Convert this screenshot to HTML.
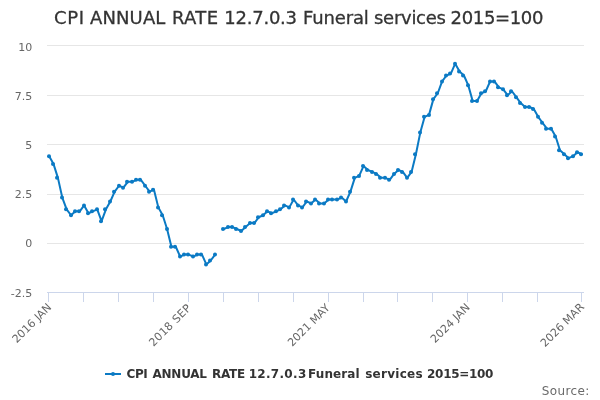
<!DOCTYPE html>
<html><head><meta charset="utf-8"><title>CPI ANNUAL RATE 12.7.0.3 Funeral services 2015=100</title>
<style>
html,body{margin:0;padding:0;background:#fff;}
svg{display:block;font-family:"DejaVu Sans","Liberation Sans",sans-serif;}
</style></head><body>
<svg width="600" height="400" viewBox="0 0 600 400">
<rect x="0" y="0" width="600" height="400" fill="#ffffff"/>
<g stroke="#e6e6e6" stroke-width="1" fill="none"><path d="M 47 45.5 L 584 45.5"/><path d="M 47 95.5 L 584 95.5"/><path d="M 47 144.5 L 584 144.5"/><path d="M 47 194.5 L 584 194.5"/><path d="M 47 243.5 L 584 243.5"/></g>
<path d="M 47 292.5 L 584 292.5" stroke="#ccd6eb" stroke-width="1" fill="none"/>
<g stroke="#ccd6eb" stroke-width="1" fill="none"><path d="M 48.5 292 L 48.5 302"/><path d="M 83.5 292 L 83.5 302"/><path d="M 118.5 292 L 118.5 302"/><path d="M 153.5 292 L 153.5 302"/><path d="M 188.5 292 L 188.5 302"/><path d="M 223.5 292 L 223.5 302"/><path d="M 258.5 292 L 258.5 302"/><path d="M 293.5 292 L 293.5 302"/><path d="M 328.5 292 L 328.5 302"/><path d="M 363.5 292 L 363.5 302"/><path d="M 397.5 292 L 397.5 302"/><path d="M 432.5 292 L 432.5 302"/><path d="M 467.5 292 L 467.5 302"/><path d="M 502.5 292 L 502.5 302"/><path d="M 537.5 292 L 537.5 302"/><path d="M 581.5 292 L 581.5 302"/></g>
<path d="M 49.18 156.21 L 53.55 164.08 L 57.91 177.86 L 62.28 197.54 L 66.65 209.34 L 71.01 215.25 L 75.38 211.31 L 79.74 211.31 L 84.11 205.41 L 88.48 213.28 L 92.84 211.31 L 97.21 209.34 L 101.57 221.15 L 105.94 209.34 L 110.30 201.47 L 114.67 191.63 L 119.04 185.73 L 123.40 187.70 L 127.77 181.79 L 132.13 181.79 L 136.50 179.82 L 140.87 179.82 L 145.23 185.73 L 149.60 191.63 L 153.96 189.66 L 158.33 207.38 L 162.70 215.25 L 167.06 229.02 L 171.43 246.74 L 175.79 246.74 L 180.16 256.58 L 184.52 254.61 L 188.89 254.61 L 193.26 256.58 L 197.62 254.61 L 201.99 254.61 L 206.35 264.45 L 210.72 260.51 L 215.09 254.61 M 223.82 229.02 L 228.18 227.06 L 232.55 227.06 L 236.91 229.02 L 241.28 230.99 L 245.65 227.06 L 250.01 223.12 L 254.38 223.12 L 258.74 217.22 L 263.11 215.25 L 267.48 211.31 L 271.84 213.28 L 276.21 211.31 L 280.57 209.34 L 284.94 205.41 L 289.30 207.38 L 293.67 199.50 L 298.04 205.41 L 302.40 207.38 L 306.77 201.47 L 311.13 203.44 L 315.50 199.50 L 319.87 203.44 L 324.23 203.44 L 328.60 199.50 L 332.96 199.50 L 337.33 199.50 L 341.70 197.54 L 346.06 201.47 L 350.43 191.63 L 354.79 177.86 L 359.16 175.89 L 363.52 166.05 L 367.89 169.98 L 372.26 171.95 L 376.62 173.92 L 380.99 177.86 L 385.35 177.86 L 389.72 179.82 L 394.09 173.92 L 398.45 169.98 L 402.82 171.95 L 407.18 177.86 L 411.55 171.95 L 415.91 154.24 L 420.28 132.59 L 424.65 116.85 L 429.01 114.88 L 433.38 99.14 L 437.74 93.23 L 442.11 81.42 L 446.48 75.52 L 450.84 73.55 L 455.21 63.71 L 459.57 71.58 L 463.94 75.52 L 468.30 85.36 L 472.67 101.10 L 477.04 101.10 L 481.40 93.23 L 485.77 91.26 L 490.13 81.42 L 494.50 81.42 L 498.87 87.33 L 503.23 89.30 L 507.60 95.20 L 511.96 91.26 L 516.33 97.17 L 520.70 103.07 L 525.06 107.01 L 529.43 107.01 L 533.79 108.98 L 538.16 116.85 L 542.52 122.75 L 546.89 128.66 L 551.26 128.66 L 555.62 136.53 L 559.99 150.30 L 564.35 154.24 L 568.72 158.18 L 573.09 156.21 L 577.45 152.27 L 581.82 154.24" fill="none" stroke="#0b7ac4" stroke-width="2" stroke-linejoin="round" stroke-linecap="round"/>
<g fill="#0b7ac4"><circle cx="49.00" cy="156.21" r="2"/><circle cx="53.00" cy="164.08" r="2"/><circle cx="57.00" cy="177.86" r="2"/><circle cx="62.00" cy="197.54" r="2"/><circle cx="66.00" cy="209.34" r="2"/><circle cx="71.00" cy="215.25" r="2"/><circle cx="75.00" cy="211.31" r="2"/><circle cx="79.00" cy="211.31" r="2"/><circle cx="84.00" cy="205.41" r="2"/><circle cx="88.00" cy="213.28" r="2"/><circle cx="92.00" cy="211.31" r="2"/><circle cx="97.00" cy="209.34" r="2"/><circle cx="101.00" cy="221.15" r="2"/><circle cx="105.00" cy="209.34" r="2"/><circle cx="110.00" cy="201.47" r="2"/><circle cx="114.00" cy="191.63" r="2"/><circle cx="119.00" cy="185.73" r="2"/><circle cx="123.00" cy="187.70" r="2"/><circle cx="127.00" cy="181.79" r="2"/><circle cx="132.00" cy="181.79" r="2"/><circle cx="136.00" cy="179.82" r="2"/><circle cx="140.00" cy="179.82" r="2"/><circle cx="145.00" cy="185.73" r="2"/><circle cx="149.00" cy="191.63" r="2"/><circle cx="153.00" cy="189.66" r="2"/><circle cx="158.00" cy="207.38" r="2"/><circle cx="162.00" cy="215.25" r="2"/><circle cx="167.00" cy="229.02" r="2"/><circle cx="171.00" cy="246.74" r="2"/><circle cx="175.00" cy="246.74" r="2"/><circle cx="180.00" cy="256.58" r="2"/><circle cx="184.00" cy="254.61" r="2"/><circle cx="188.00" cy="254.61" r="2"/><circle cx="193.00" cy="256.58" r="2"/><circle cx="197.00" cy="254.61" r="2"/><circle cx="201.00" cy="254.61" r="2"/><circle cx="206.00" cy="264.45" r="2"/><circle cx="210.00" cy="260.51" r="2"/><circle cx="215.00" cy="254.61" r="2"/><circle cx="223.00" cy="229.02" r="2"/><circle cx="228.00" cy="227.06" r="2"/><circle cx="232.00" cy="227.06" r="2"/><circle cx="236.00" cy="229.02" r="2"/><circle cx="241.00" cy="230.99" r="2"/><circle cx="245.00" cy="227.06" r="2"/><circle cx="250.00" cy="223.12" r="2"/><circle cx="254.00" cy="223.12" r="2"/><circle cx="258.00" cy="217.22" r="2"/><circle cx="263.00" cy="215.25" r="2"/><circle cx="267.00" cy="211.31" r="2"/><circle cx="271.00" cy="213.28" r="2"/><circle cx="276.00" cy="211.31" r="2"/><circle cx="280.00" cy="209.34" r="2"/><circle cx="284.00" cy="205.41" r="2"/><circle cx="289.00" cy="207.38" r="2"/><circle cx="293.00" cy="199.50" r="2"/><circle cx="298.00" cy="205.41" r="2"/><circle cx="302.00" cy="207.38" r="2"/><circle cx="306.00" cy="201.47" r="2"/><circle cx="311.00" cy="203.44" r="2"/><circle cx="315.00" cy="199.50" r="2"/><circle cx="319.00" cy="203.44" r="2"/><circle cx="324.00" cy="203.44" r="2"/><circle cx="328.00" cy="199.50" r="2"/><circle cx="332.00" cy="199.50" r="2"/><circle cx="337.00" cy="199.50" r="2"/><circle cx="341.00" cy="197.54" r="2"/><circle cx="346.00" cy="201.47" r="2"/><circle cx="350.00" cy="191.63" r="2"/><circle cx="354.00" cy="177.86" r="2"/><circle cx="359.00" cy="175.89" r="2"/><circle cx="363.00" cy="166.05" r="2"/><circle cx="367.00" cy="169.98" r="2"/><circle cx="372.00" cy="171.95" r="2"/><circle cx="376.00" cy="173.92" r="2"/><circle cx="380.00" cy="177.86" r="2"/><circle cx="385.00" cy="177.86" r="2"/><circle cx="389.00" cy="179.82" r="2"/><circle cx="394.00" cy="173.92" r="2"/><circle cx="398.00" cy="169.98" r="2"/><circle cx="402.00" cy="171.95" r="2"/><circle cx="407.00" cy="177.86" r="2"/><circle cx="411.00" cy="171.95" r="2"/><circle cx="415.00" cy="154.24" r="2"/><circle cx="420.00" cy="132.59" r="2"/><circle cx="424.00" cy="116.85" r="2"/><circle cx="429.00" cy="114.88" r="2"/><circle cx="433.00" cy="99.14" r="2"/><circle cx="437.00" cy="93.23" r="2"/><circle cx="442.00" cy="81.42" r="2"/><circle cx="446.00" cy="75.52" r="2"/><circle cx="450.00" cy="73.55" r="2"/><circle cx="455.00" cy="63.71" r="2"/><circle cx="459.00" cy="71.58" r="2"/><circle cx="463.00" cy="75.52" r="2"/><circle cx="468.00" cy="85.36" r="2"/><circle cx="472.00" cy="101.10" r="2"/><circle cx="477.00" cy="101.10" r="2"/><circle cx="481.00" cy="93.23" r="2"/><circle cx="485.00" cy="91.26" r="2"/><circle cx="490.00" cy="81.42" r="2"/><circle cx="494.00" cy="81.42" r="2"/><circle cx="498.00" cy="87.33" r="2"/><circle cx="503.00" cy="89.30" r="2"/><circle cx="507.00" cy="95.20" r="2"/><circle cx="511.00" cy="91.26" r="2"/><circle cx="516.00" cy="97.17" r="2"/><circle cx="520.00" cy="103.07" r="2"/><circle cx="525.00" cy="107.01" r="2"/><circle cx="529.00" cy="107.01" r="2"/><circle cx="533.00" cy="108.98" r="2"/><circle cx="538.00" cy="116.85" r="2"/><circle cx="542.00" cy="122.75" r="2"/><circle cx="546.00" cy="128.66" r="2"/><circle cx="551.00" cy="128.66" r="2"/><circle cx="555.00" cy="136.53" r="2"/><circle cx="559.00" cy="150.30" r="2"/><circle cx="564.00" cy="154.24" r="2"/><circle cx="568.00" cy="158.18" r="2"/><circle cx="573.00" cy="156.21" r="2"/><circle cx="577.00" cy="152.27" r="2"/><circle cx="581.00" cy="154.24" r="2"/></g>
<text id="title" y="24" style="font-size:18px;fill:#333333;stroke:#333333;stroke-width:0.3px" xml:space="preserve"><tspan x="54.0" textLength="30.07">CPI</tspan> <tspan x="90.0" textLength="75.35">ANNUAL</tspan> <tspan x="172.0" textLength="46.05">RATE</tspan> <tspan x="224.27" textLength="72.77">12.7.0.3</tspan> <tspan x="302.98" textLength="65.8">Funeral</tspan> <tspan x="374.0" textLength="71.9">services</tspan> <tspan x="450.6" textLength="92.8">2015=100</tspan></text>
<g style="font-size:11px;fill:#666666"><text x="32.3" y="51" text-anchor="end">10</text><text x="32.3" y="100" text-anchor="end">7.5</text><text x="32.3" y="149" text-anchor="end">5</text><text x="32.3" y="198" text-anchor="end">2.5</text><text x="32.3" y="247" text-anchor="end">0</text><text x="32.3" y="297" text-anchor="end">-2.5</text></g>
<g style="font-size:11px;fill:#666666"><text x="52.2" y="308" text-anchor="end" transform="rotate(-45 52.2 308)">2016 JAN</text><text x="191.6" y="308.7" text-anchor="end" textLength="54" transform="rotate(-45 191.6 308.7)">2018 SEP</text><text x="330.6" y="308.5" text-anchor="end" transform="rotate(-45 330.6 308.5)">2021 MAY</text><text x="470.6" y="308" text-anchor="end" transform="rotate(-45 470.6 308)">2024 JAN</text><text x="584.8" y="307.7" text-anchor="end" transform="rotate(-45 584.8 307.7)">2026 MAR</text></g>
<path d="M 105 374 L 121 374" stroke="#0b7ac4" stroke-width="2" fill="none"/>
<circle cx="113" cy="374" r="2" fill="#0b7ac4"/>
<text id="legend" y="378" style="font-size:12px;font-weight:bold;fill:#333333" xml:space="preserve"><tspan x="126.4" textLength="21.41">CPI</tspan> <tspan x="152.44" textLength="54.59">ANNUAL</tspan> <tspan x="211.9" textLength="33.18">RATE</tspan> <tspan x="248.65" textLength="57.61">12.7.0.3</tspan> <tspan x="308.1" textLength="51.61">Funeral</tspan> <tspan x="365.18" textLength="57.39">services</tspan> <tspan x="427.05" textLength="66.42">2015=100</tspan></text>
<text id="credits" x="541.8" y="395" textLength="47.6" style="font-size:12px;fill:#6a6a6a">Source:</text>
</svg>
</body></html>
